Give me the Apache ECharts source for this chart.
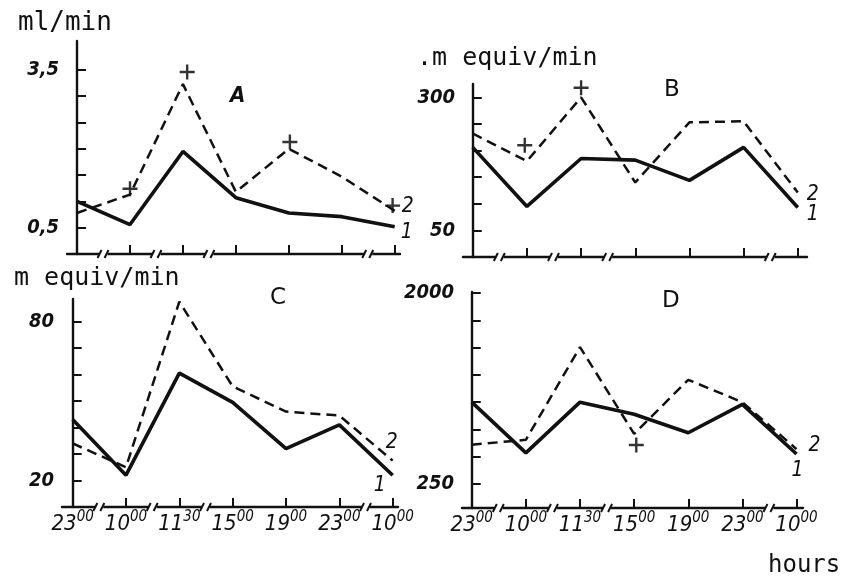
<!DOCTYPE html>
<html><head><meta charset="utf-8">
<script src="https://cdn.jsdelivr.net/npm/echarts@6/dist/echarts.min.js"></script>
<style>html,body{margin:0;padding:0;background:#fff}#c{width:844px;height:578px}</style>
</head><body><div id="c"></div>
<script>
// categories (time points)
const xMain = ['23','10','11','15','19','23','10'];
const xSup  = ['00','00','30','00','00','00','00'];
// Panel A (ml/min)
const A1 = [1.0, 0.56, 1.95, 1.07, 0.78, 0.71, 0.52];
const A2 = [0.78, 1.13, 3.23, 1.18, 2.0, 1.47, 0.82];
const plusA = [[1.0,1.24],[2.08,3.46],[4.02,2.13],[5.96,0.92]];
// Panel B
const B1 = [206, 95, 185, 182, 144, 206, 93];
const B2 = [232, 180, 300, 140, 253, 255, 121];
const plusB = [[0.96,210],[2.0,318]];
// Panel C
const C1 = [43, 22, 60.5, 49.5, 32, 41, 22];
const C2 = [34, 25, 87.5, 55.5, 46, 44.5, 27.5];
// Panel D
const D1 = [1000, 535, 1000, 890, 720, 980, 525];
const D2 = [610, 655, 1505, 710, 1205, 1000, 570];
const plusD = [[3.04,607]];
// y tick values / labels
const yTicksA = [0.5,1,1.5,2,2.5,3,3.5], yLabA = [0.5,3.5];
const yTicksB = [50,100,150,200,250,300], yLabB = [50,300];
const yTicksC = [20,30,40,50,60,70,80], yLabC = [20,80];
const yTicksD = [250,500,750,1000,1250,1500,1750,2000], yLabD = [250,2000];
const breaks = [0.5,1.5,2.5,5.5];

const INK = '#111';
const NARROW = "'Liberation Sans Narrow','DejaVu Sans Condensed','Liberation Sans',sans-serif";
const MONO = "'DejaVu Sans Mono',monospace";

const grids = [
  {left:67, top:41, width:333, height:213},
  {left:463, top:84, width:344, height:173},
  {left:62, top:299, width:336, height:208},
  {left:462, top:292, width:341, height:216}
];
const xr = [[-0.19,6.1],[-0.18,6.17],[-0.2,6.1],[-0.18,6.12]];
const yr = [[0,4.05],[0,325],[10,88.5],[30,2010]];
const yt = [yTicksA,yTicksB,yTicksC,yTicksD];
const yl = [yLabA,yLabB,yLabC,yLabD];
const showX = [false,false,true,true];

const xAxis = grids.map((g,i)=>({
  type:'value', gridIndex:i, min:xr[i][0], max:xr[i][1],
  splitLine:{show:false},
  axisLine:{show:true, lineStyle:{color:INK, width:2.4}},
  axisTick:{show:true, inside:true, length:9, lineStyle:{color:INK,width:2}, customValues:[0,1,2,3,4,5,6]},
  axisLabel:{show:showX[i], customValues:[0,1,2,3,4,5,6], margin:3,
    formatter:v=>'{m|'+xMain[v]+'}{s|'+xSup[v]+'}',
    rich:{
      m:{fontSize:22, fontStyle:'italic', fontFamily:NARROW, color:INK, verticalAlign:'bottom', lineHeight:25},
      s:{fontSize:15, fontStyle:'italic', fontFamily:NARROW, color:INK, verticalAlign:'top', lineHeight:25}
    }}
}));
const yAxis = grids.map((g,i)=>({
  type:'value', gridIndex:i, min:yr[i][0], max:yr[i][1],
  splitLine:{show:false},
  axisLine:{show:true, lineStyle:{color:INK, width:2.4}},
  axisTick:{show:true, inside:true, length:9, lineStyle:{color:INK,width:2}, customValues:yt[i]},
  axisLabel:{show:true, customValues:yl[i], margin:8, color:INK, fontSize:20, fontStyle:'italic', fontWeight:'bold', fontFamily:NARROW,
    formatter:v=>String(v).replace('.',',')}
}));

function lineSeries(idx, vals, dashed, lbl, off){
  return {
    type:'line', xAxisIndex:idx, yAxisIndex:idx, silent:true, animation:false,
    symbol:'circle', symbolSize:0, showSymbol:true,
    lineStyle:{color:INK, width: dashed?2.5:3.6, type: dashed?[10,6]:'solid'},
    itemStyle:{color:INK},
    label:{show:false},
    data: vals.map((v,k)=> k===vals.length-1
      ? {value:[k,v], label:{show:true, position:'inside', offset:off, formatter:lbl, color:INK, fontSize:21, fontStyle:'italic', fontFamily:NARROW}}
      : [k,v])
  };
}
const plusPath = 'path://M4.2,0 L5.8,0 L5.8,4.2 L10,4.2 L10,5.8 L5.8,5.8 L5.8,10 L4.2,10 L4.2,5.8 L0,5.8 L0,4.2 L4.2,4.2 Z';
function plusSeries(idx, pts){
  return {type:'scatter', xAxisIndex:idx, yAxisIndex:idx, silent:true, animation:false,
    symbol:plusPath, symbolSize:15, itemStyle:{color:'#000'}, data:pts};
}

const series = [
  lineSeries(0, A1, false, '1', [12,6]),
  lineSeries(0, A2, true, '2', [13,-4]),
  plusSeries(0, plusA),
  lineSeries(1, B1, false, '1', [15,7]),
  lineSeries(1, B2, true, '2', [15,2]),
  plusSeries(1, plusB),
  lineSeries(2, C1, false, '1', [-13,10]),
  lineSeries(2, C2, true, '2', [-1,-18]),
  lineSeries(3, D1, false, '1', [1,17]),
  lineSeries(3, D2, true, '2', [18,-4]),
  plusSeries(3, plusD)
];

const tStyle = {fontFamily:MONO, fontSize:25, fontWeight:'normal', color:INK};
const title = [
  {text:'ml/min', left:13, top:5, textStyle:Object.assign({},tStyle,{fontSize:26})},
  {text:'.m equiv/min', left:412, top:41, textStyle:tStyle},
  {text:'m equiv/min', left:9, top:261, textStyle:tStyle},
  {text:'hours', left:763, top:549, textStyle:Object.assign({},tStyle,{fontSize:24})},
  {text:'A', left:225, top:80, textStyle:{fontFamily:NARROW, fontSize:22, fontStyle:'italic', fontWeight:'bold', color:INK}},
  {text:'B', left:659, top:74, textStyle:{fontFamily:"'DejaVu Sans',sans-serif", fontSize:23, fontWeight:'normal', color:INK}},
  {text:'C', left:265, top:282, textStyle:{fontFamily:"'DejaVu Sans',sans-serif", fontSize:23, fontWeight:'normal', color:INK}},
  {text:'D', left:657, top:285, textStyle:{fontFamily:"'DejaVu Sans',sans-serif", fontSize:23, fontWeight:'normal', color:INK}}
];

const chart = echarts.init(document.getElementById('c'), null, {renderer:'canvas'});
chart.setOption({backgroundColor:'#fff', animation:false, grid:grids, xAxis, yAxis, series, title});

// axis break marks, placed through the axes' own scales
const gfx = [];
for (let i=0;i<4;i++){
  for (const b of breaks){
    const p = chart.convertToPixel({gridIndex:i}, [b, yr[i][0]]);
    const x = p[0], y = p[1];
    gfx.push({type:'rect', shape:{x:x-4, y:y-3, width:8, height:6}, style:{fill:'#fff'}, z:100});
    gfx.push({type:'line', shape:{x1:x-6, y1:y+4, x2:x-2, y2:y-4}, style:{stroke:INK, lineWidth:2}, z:101});
    gfx.push({type:'line', shape:{x1:x+1, y1:y+4, x2:x+5, y2:y-4}, style:{stroke:INK, lineWidth:2}, z:101});
  }
}
chart.setOption({graphic:gfx});
</script></body></html>
